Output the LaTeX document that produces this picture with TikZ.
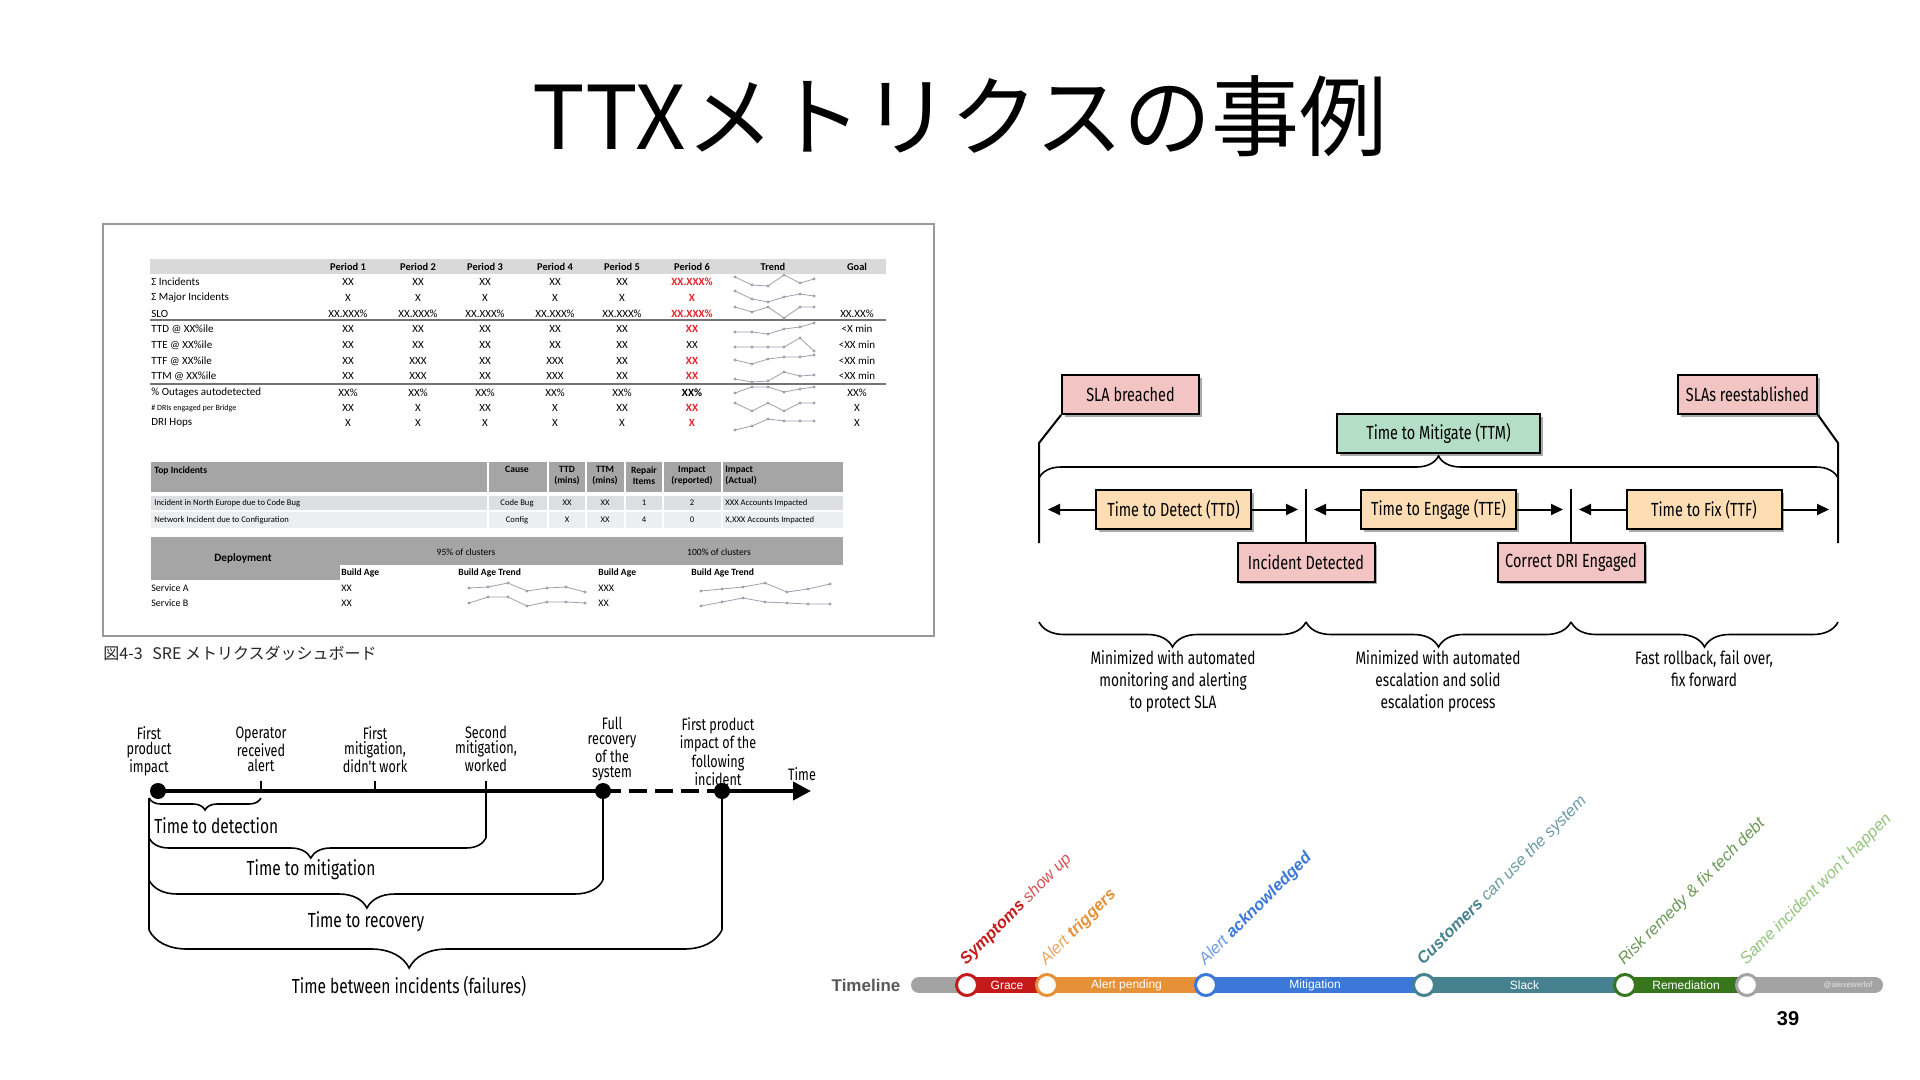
\documentclass[tikz,border=0pt]{standalone}
\usepackage{xcolor}
\usepackage{fontspec}
\setmainfont{Liberation Sans}
\newfontfamily\jpfont{Noto Sans CJK JP}
\newfontfamily\calfont{Carlito}
\newfontfamily\narrowfont[FakeStretch=0.76]{Fira Sans}
\usepackage{tikz}
\usetikzlibrary{positioning, arrows.meta, shadows, decorations.pathreplacing, calc}

\definecolor{hotred}{HTML}{E8242B}
\definecolor{bandlight}{HTML}{D9D9D9}
\definecolor{banddark}{HTML}{A5A5A5}
\definecolor{rowa}{HTML}{DCDEE1}
\definecolor{rowb}{HTML}{EDEEF0}
\definecolor{sparkgray}{HTML}{9AA3AD}
\definecolor{sparkdot}{HTML}{C0392B}
\definecolor{rosefill}{HTML}{F2C4C4}
\definecolor{mintfill}{HTML}{B4DFC6}
\definecolor{peachfill}{HTML}{FCDDB4}
\definecolor{tlgray}{HTML}{A3A3A3}
\definecolor{tlred}{HTML}{C41A1A}
\definecolor{tlorange}{HTML}{E69138}
\definecolor{tlblue}{HTML}{3C78D8}
\definecolor{tlteal}{HTML}{45818E}
\definecolor{tlgreen}{HTML}{38761D}
\definecolor{tllime}{HTML}{93C47D}

\newcommand\hotval[1]{\textcolor{hotred}{\bfseries #1}}

\begin{document}
\begin{tikzpicture}[
  x=0.5pt, y=-0.5pt,
  cell/.style={font=\calfont\fontsize{5.5}{6}\selectfont, inner sep=0pt},
  lab/.style={cell, anchor=west},
  thead/.style={cell, font=\calfont\bfseries\fontsize{5.2}{6}\selectfont},
  small/.style={cell, font=\calfont\fontsize{4.3}{5}\selectfont},
  smallhd/.style={cell, font=\calfont\bfseries\fontsize{4.8}{5.6}\selectfont, align=center},
  spark/.style={sparkgray, line width=0.4pt, mark=*, mark size=0.5pt,
    mark options={draw=none, fill=sparkdot}},
  card/.style={draw, line width=1pt, inner sep=0pt, minimum height=19.5pt,
    font=\narrowfont\fontsize{9.5}{11}\selectfont,
    drop shadow={shadow xshift=1.3pt, shadow yshift=-1.3pt, fill=black!65}},
  rosecard/.style={card, fill=rosefill},
  mintcard/.style={card, fill=mintfill},
  peachcard/.style={card, fill=peachfill, minimum width=77.5pt},
  edge/.style={line width=1pt},
  span/.style={-{Triangle[length=6pt, width=5.5pt]}, line width=1pt},
  curly/.style={decorate, decoration={brace, amplitude=#1}, line width=0.8pt},
  curlydn/.style n args={2}{decorate, decoration={brace, mirror, amplitude=#1, aspect=#2}, line width=0.8pt},
  note/.style={font=\narrowfont\fontsize{9}{11}\selectfont, align=center, inner sep=0pt, anchor=north},
  dot/.style={circle, fill=black, minimum size=8pt, inner sep=0pt},
  axisline/.style={line width=2pt},
  notch/.style={line width=1.3pt},
  evt/.style={font=\narrowfont\fontsize{8.3}{7.4}\selectfont, align=center, inner sep=0pt, anchor=north},
  spanlab/.style={font=\narrowfont\fontsize{10.2}{11}\selectfont, inner sep=0pt},
  bar/.style={line width=8pt},
  stop/.style={circle, draw=#1, line width=1.5pt, fill=white, minimum size=10.5pt, inner sep=0pt},
  phase/.style={text=white, font=\fontsize{6}{7}\selectfont, inner sep=0pt},
  milestone/.style={rotate=45, anchor=base west, inner sep=0pt, font=\itshape\fontsize{8.2}{9}\selectfont},
]
  \fill[white] (0,0) rectangle (1920,1080);
  \useasboundingbox (0,0) rectangle (1920,1080);

  % Title
  \node[font=\jpfont\fontsize{44}{50}\selectfont, inner sep=0pt] (title) at (960,116) {TTXメトリクスの事例};

  % Dashboard figure
  \draw[black!40, line width=0.6pt] (103,224) rectangle (934,636);
  \node[anchor=west, inner sep=0pt, font=\jpfont\fontsize{8}{9}\selectfont, text=black!85] (cap) at (103,653)
    {図4-3\hspace{0.6em}SRE メトリクスダッシュボード};

  \fill[bandlight] (150,259) rectangle (886,274);
  \foreach \x/\t [count=\i] in {348/Period 1, 418/Period 2, 485/Period 3, 555/Period 4,
      622/Period 5, 692/Period 6, 773/Trend, 857/Goal}
    \node[thead] (hd\i) at (\x,266.5) {\t};

  \foreach \y/\t/\pa/\pb/\pc/\pd/\pe/\pf/\g [count=\i] in {
      282/Σ Incidents/XX/XX/XX/XX/XX/\hotval{XX.XXX\%}/{},
      298/Σ Major Incidents/X/X/X/X/X/\hotval{X}/{},
      314/SLO/XX.XXX\%/XX.XXX\%/XX.XXX\%/XX.XXX\%/XX.XXX\%/\hotval{XX.XXX\%}/XX.XX\%,
      329/TTD @ XX\%ile/XX/XX/XX/XX/XX/\hotval{XX}/<X min,
      345/TTE @ XX\%ile/XX/XX/XX/XX/XX/XX/<XX min,
      361/TTF @ XX\%ile/XX/XXX/XX/XXX/XX/\hotval{XX}/<XX min,
      376/TTM @ XX\%ile/XX/XXX/XX/XXX/XX/\hotval{XX}/<XX min,
      393/\% Outages autodetected/XX\%/XX\%/XX\%/XX\%/XX\%/\textbf{XX\%}/XX\%,
      408/{\fontsize{4}{5}\selectfont\# DRIs engaged per Bridge}/XX/X/XX/X/XX/\hotval{XX}/X,
      423/DRI Hops/X/X/X/X/X/\hotval{X}/X}{
    \node[lab] (rw\i) at (151,\y) {\t};
    \node[cell] (rw\i-1) at (348,\y) {\pa};
    \node[cell] (rw\i-2) at (418,\y) {\pb};
    \node[cell] (rw\i-3) at (485,\y) {\pc};
    \node[cell] (rw\i-4) at (555,\y) {\pd};
    \node[cell] (rw\i-5) at (622,\y) {\pe};
    \node[cell] (rw\i-6) at (692,\y) {\pf};
    \node[cell] (rw\i-g) at (857,\y) {\g};
  }
  \draw[black!55, line width=1pt] (150,320) -- (886,320);
  \draw[black!55, line width=1pt] (150,384) -- (886,384);

  % Trend sparklines
  \foreach \ya/\yb/\yc/\yd/\ye/\yf in {
      277/285/286/275/283/279, 291/299/302/297/294/296, 307/312/307/318/307/307,
      332/332/334/329/327/323, 347/347/347/347/338/351, 360/364/359/357/357/355,
      379/382/381/372/376/375, 393/387/387/392/389/387, 403/411/403/411/403/403,
      430/426/419/421/421/421}
    \draw[spark] plot coordinates {(735,\ya) (752,\yb) (768,\yc) (784,\yd) (800,\ye) (814,\yf)};

  % Top incidents table
  \fill[banddark] (151,462) rectangle (843,492);
  \fill[rowa] (151,496) rectangle (843,510);
  \fill[rowb] (151,512) rectangle (843,528);
  \foreach \x in {488,548,586,625,663,722}
    \draw[white, line width=1pt] (\x,462) -- (\x,528);
  \node[smallhd, anchor=north west] (tih) at (154,466) {Top Incidents};
  \foreach \x/\t [count=\i] in {517/Cause, 567/TTD\\(mins), 605/TTM\\(mins),
      644/Repair\\Items, 692/Impact\\(reported)}
    \node[smallhd, anchor=north] (tic\i) at (\x,466) {\t};
  \node[smallhd, anchor=north west, align=left] (tic6) at (725,466) {Impact\\(Actual)};
  \foreach \y/\t/\ca/\cb/\cc/\cd/\ce/\cf [count=\i] in {
      503/Incident in North Europe due to Code Bug/Code Bug/XX/XX/1/2/XXX Accounts Impacted,
      520/Network Incident due to Configuration/Config/X/XX/4/0/{X,XXX Accounts Impacted}}{
    \node[small, anchor=west] (ti\i) at (154,\y) {\t};
    \node[small] (ti\i-1) at (517,\y) {\ca};
    \node[small] (ti\i-2) at (567,\y) {\cb};
    \node[small] (ti\i-3) at (605,\y) {\cc};
    \node[small] (ti\i-4) at (644,\y) {\cd};
    \node[small] (ti\i-5) at (692,\y) {\ce};
    \node[small, anchor=west] (ti\i-6) at (725,\y) {\cf};
  }

  % Deployment table
  \fill[banddark] (151,537) rectangle (843,565);
  \fill[banddark] (151,565) rectangle (340,580);
  \node[smallhd, font=\calfont\bfseries\fontsize{5.6}{6}\selectfont] (dep) at (243,558) {Deployment};
  \node[small, font=\calfont\fontsize{4.8}{5.6}\selectfont] (c95) at (466,552) {95\% of clusters};
  \node[small, font=\calfont\fontsize{4.8}{5.6}\selectfont] (c100) at (719,552) {100\% of clusters};
  \foreach \x/\t [count=\i] in {341/Build Age, 458/Build Age Trend, 598/Build Age, 691/Build Age Trend}
    \node[smallhd, anchor=west] (ba\i) at (\x,573) {\t};
  \node[small, anchor=west, font=\calfont\fontsize{5}{6}\selectfont] (sva) at (151,588) {Service A};
  \node[small, anchor=west, font=\calfont\fontsize{5}{6}\selectfont] (svb) at (151,603) {Service B};
  \node[small, anchor=west, font=\calfont\fontsize{5}{6}\selectfont] (sva-1) at (341,588) {XX};
  \node[small, anchor=west, font=\calfont\fontsize{5}{6}\selectfont] (svb-1) at (341,603) {XX};
  \node[small, anchor=west, font=\calfont\fontsize{5}{6}\selectfont] (sva-2) at (598,588) {XXX};
  \node[small, anchor=west, font=\calfont\fontsize{5}{6}\selectfont] (svb-2) at (598,603) {XX};
  \draw[spark] plot coordinates {(469,588) (488,587) (508,583) (527,591) (547,588) (566,587) (585,592)};
  \draw[spark] plot coordinates {(469,603) (488,597) (508,597) (527,606) (547,602) (566,602) (585,603)};
  \draw[spark] plot coordinates {(701,591) (722,589) (743,587) (765,583) (787,592) (808,589) (830,584)};
  \draw[spark] plot coordinates {(701,606) (722,602) (743,598) (765,602) (787,603) (808,604) (830,604)};

  % Incident phases with boxes and braces
  \node[rosecard, minimum width=68.5pt] (breach) at (1130.5,394.5) {SLA breached};
  \node[rosecard, minimum width=69.5pt] (restore) at (1747.5,394.5) {SLAs reestablished};
  \node[mintcard, minimum width=101.5pt] (ttm) at (1438.5,433.5) {Time to Mitigate (TTM)};
  \node[peachcard] (ttd) at (1173.5,509.5) {Time to Detect (TTD)};
  \node[peachcard] (tte) at (1438.5,509.5) {Time to Engage (TTE)};
  \node[peachcard] (ttf) at (1704,509.5) {Time to Fix (TTF)};
  \node[rosecard, minimum width=68.5pt] (found) at (1306,562) {Incident Detected};
  \node[rosecard, minimum width=73.5pt] (dri) at (1571,562) {Correct DRI Engaged};

  \coordinate (lt) at (1039,443);
  \coordinate (lb) at (1039,543);
  \coordinate (rt) at (1838,443);
  \coordinate (rb) at (1838,543);
  \coordinate (m1) at (1306,489);
  \coordinate (m2) at (1571,489);
  \draw[edge] (breach.south west) -- (lt) -- (lb);
  \draw[edge] (restore.south east) -- (rt) -- (rb);
  \draw[edge] (m1) -- (found);
  \draw[edge] (m2) -- (dri);

  \coordinate (bl) at (1039,478);
  \coordinate (br) at (1838,478);
  \draw[curly=11pt] (bl) -- (br);

  \coordinate (a1l) at (1048,509.5);
  \coordinate (a1r) at (1298,509.5);
  \coordinate (a2l) at (1314,509.5);
  \coordinate (a2r) at (1563,509.5);
  \coordinate (a3l) at (1579,509.5);
  \coordinate (a3r) at (1829,509.5);
  \draw[span] (ttd) -- (a1l);
  \draw[span] (ttd) -- (a1r);
  \draw[span] (tte) -- (a2l);
  \draw[span] (tte) -- (a2r);
  \draw[span] (ttf) -- (a3l);
  \draw[span] (ttf) -- (a3r);

  \coordinate (q0) at (1039,622);
  \coordinate (q1) at (1306,622);
  \coordinate (q2) at (1571,622);
  \coordinate (q3) at (1838,622);
  \draw[curlydn={12.5pt}{0.5}] (q0) -- (q1);
  \draw[curlydn={12.5pt}{0.5}] (q1) -- (q2);
  \draw[curlydn={12.5pt}{0.5}] (q2) -- (q3);
  \node[note] (n1) at (1173,650) {Minimized with automated\\monitoring and alerting\\to protect SLA};
  \node[note] (n2) at (1438,650) {Minimized with automated\\escalation and solid\\escalation process};
  \node[note] (n3) at (1704,650) {Fast rollback, fail over,\\fix forward};

  % Incident timeline with spans
  \node[dot] (impact) at (158,791) {};
  \node[dot] (recover) at (603,791) {};
  \node[dot] (nextinc) at (722,791) {};
  \coordinate (tend) at (811,791);
  \coordinate (alert) at (261,791);
  \coordinate (mit1) at (375,791);
  \coordinate (mit2) at (486,791);
  \draw[axisline] (impact.center) -- (recover.center);
  \draw[axisline, dash pattern=on 9pt off 4pt] (recover.center) -- (nextinc.center);
  \draw[axisline, -{Triangle[length=9pt, width=9pt]}] (nextinc.center) -- (tend);
  \draw[notch] (alert) -- ++(0,-10);
  \draw[notch] (mit1) -- ++(0,-10);
  \draw[notch] (mit2) -- ++(0,-10);

  \node[evt] (e1) at (149,726) {First\\product\\impact};
  \node[evt] (e2) at (261,726) {Operator\\received\\alert};
  \node[evt] (e3) at (375,726) {First\\mitigation,\\didn't work};
  \node[evt] (e4) at (486,726) {Second\\mitigation,\\worked};
  \node[evt] (e5) at (612,717) {Full\\recovery\\of the\\system};
  \node[evt] (e6) at (718,717) {First product\\impact of the\\following\\incident};
  \node[evt] (e7) at (802,767) {Time};

  \coordinate (d0) at (149,798);
  \coordinate (d1) at (261,798);
  \coordinate (g0) at (149,838);
  \coordinate (g1) at (486,838);
  \coordinate (r0) at (149,880);
  \coordinate (r1) at (603,880);
  \coordinate (f0) at (149,930);
  \coordinate (f1) at (722,930);
  \draw[curlydn={6pt}{0.5}] (d0) -- (d1);
  \draw[curlydn={10pt}{0.48}] (g0) -- (g1);
  \draw[curlydn={14pt}{0.48}] (r0) -- (r1);
  \draw[curlydn={19pt}{0.454}] (f0) -- (f1);
  \draw[line width=0.8pt] (d0) -- (f0);
  \draw[line width=0.8pt] (mit2) -- (g1);
  \draw[line width=0.8pt] (recover) -- (r1);
  \draw[line width=0.8pt] (nextinc) -- (f1);

  \node[spanlab, anchor=west] (sl1) at (154,826) {Time to detection};
  \node[spanlab] (sl2) at (311,870) {Time to mitigation};
  \node[spanlab] (sl3) at (366,922) {Time to recovery};
  \node[spanlab] (sl4) at (409,986) {Time between incidents (failures)};

  % Coloured timeline bar
  \node[font=\bfseries\fontsize{8.5}{10}\selectfont, text=black!65, inner sep=0pt] (tl) at (866,985) {Timeline};
  \coordinate (p0) at (919,985);
  \coordinate (p1) at (967,985);
  \coordinate (p2) at (1047,985);
  \coordinate (p3) at (1206,985);
  \coordinate (p4) at (1424,985);
  \coordinate (p5) at (1625,985);
  \coordinate (p6) at (1747,985);
  \coordinate (p7) at (1875,985);
  \draw[bar, tlgray, line cap=round] (p0) -- (p7);
  \draw[bar, tlred] (p1) -- (p2);
  \draw[bar, tlorange] (p2) -- (p3);
  \draw[bar, tlblue] (p3) -- (p4);
  \draw[bar, tlteal] (p4) -- (p5);
  \draw[bar, tlgreen] (p5) -- (p6);
  \node[phase] (ph1) at ($(p1)!0.5!(p2)$) {Grace};
  \node[phase] (ph2) at ($(p2)!0.5!(p3)$) {Alert pending};
  \node[phase] (ph3) at ($(p3)!0.5!(p4)$) {Mitigation};
  \node[phase] (ph4) at ($(p4)!0.5!(p5)$) {Slack};
  \node[phase] (ph5) at ($(p5)!0.5!(p6)$) {Remediation};
  \node[font=\fontsize{4}{5}\selectfont, text=white!80!gray, inner sep=0pt] (credit) at (1848,985) {@alexewerlof};
  \node[stop=tlred] (st1) at (p1) {};
  \node[stop=tlorange] (st2) at (p2) {};
  \node[stop=tlblue] (st3) at (p3) {};
  \node[stop=tlteal] (st4) at (p4) {};
  \node[stop=tlgreen] (st5) at (p5) {};
  \node[stop=tlgray] (st6) at (p6) {};

  \node[milestone, text=tlred] (ms1) at (966,966) {\textbf{Symptoms} \textcolor{tlred!75}{show up}};
  \node[milestone, text=tlorange!80] (ms2) at (1046,966) {Alert \textbf{\textcolor{tlorange}{triggers}}};
  \node[milestone, text=tlblue!75] (ms3) at (1205,966) {Alert \textbf{\textcolor{tlblue}{acknowledged}}};
  \node[milestone, text=tlteal!80] (ms4) at (1423,966) {\textbf{\textcolor{tlteal}{Customers}} can use the system};
  \node[milestone, text=tlgreen!75] (ms5) at (1624,966) {Risk remedy \& fix tech debt};
  \node[milestone, text=tllime] (ms6) at (1746,966) {Same incident won't happen};

  \node[font=\bfseries\fontsize{10}{12}\selectfont, inner sep=0pt] (pg) at (1788,1019) {39};
\end{tikzpicture}
\end{document}
